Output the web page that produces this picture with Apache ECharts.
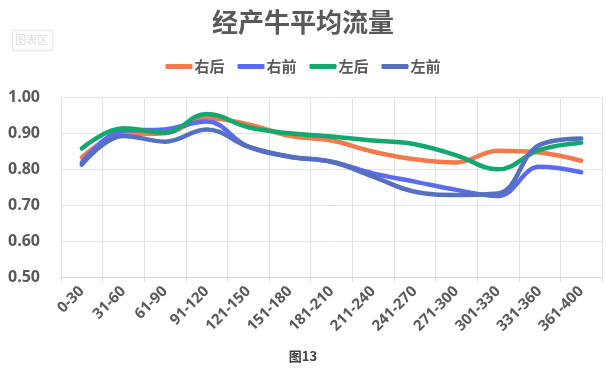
<!DOCTYPE html>
<html><head><meta charset="utf-8">
<script src="https://cdn.jsdelivr.net/npm/echarts@6/dist/echarts.min.js"></script>
<style>html,body{margin:0;padding:0;background:#fff}#c{width:606px;height:381px}</style>
</head><body><div id="c"></div>
<script>
const categories = ['0-30','31-60','61-90','91-120','121-150','151-180','181-210','211-240','241-270','271-300','301-330','331-360','361-400'];
const rightRear  = [0.832,0.896,0.899,0.941,0.924,0.892,0.879,0.848,0.827,0.818,0.851,0.846,0.823];
const rightFront = [0.818,0.906,0.910,0.932,0.862,0.834,0.820,0.788,0.765,0.742,0.725,0.806,0.791];
const leftRear   = [0.857,0.913,0.901,0.953,0.916,0.899,0.890,0.879,0.869,0.838,0.799,0.853,0.873];
const leftFront  = [0.812,0.892,0.876,0.910,0.862,0.834,0.820,0.779,0.737,0.728,0.732,0.867,0.885];
const seriesNames = ['右后','右前','左后','左前'];
const colors = ['#F4794B','#5B6CF2','#12A86E','#5570BE'];
const yTicks = { min: 0.5, max: 1.0, interval: 0.1 };

const FONT = "'Open Sans','Noto Sans CJK SC',sans-serif";
const chart = echarts.init(document.getElementById('c'));
const mk = (name, data, color) => ({
  name, type: 'line', data, smooth: 0.4, showSymbol: false, symbol: 'none',
  lineStyle: { width: 4.5, color, cap: 'round' }, itemStyle: { color }
});
chart.setOption({
  animation: false,
  title: { text: '经产牛平均流量', left: 'center', top: 4,
    textStyle: { fontSize: 26, fontWeight: 'bold', color: '#595959', fontFamily: "'Noto Sans CJK SC',sans-serif" } },
  legend: { top: 54, left: 'center', itemWidth: 27, itemHeight: 5, itemGap: 13, icon: 'roundRect',
    textStyle: { fontSize: 15, fontWeight: 'bold', color: '#595959', fontFamily: "'Noto Sans CJK SC',sans-serif", padding: [0,0,0,-3] },
    data: seriesNames },
  grid: { left: 61, right: 4, top: 97, bottom: 104 },
  xAxis: { type: 'category', data: categories, boundaryGap: true,
    axisLine: { lineStyle: { color: '#D9D9D9' } },
    axisTick: { show: true, length: 5, lineStyle: { color: '#D9D9D9' } },
    splitLine: { show: true, lineStyle: { color: '#E3E3E3' } },
    axisLabel: { rotate: 45, interval: 0, margin: 12, fontSize: 15, fontWeight: 'bold', color: '#595959', fontFamily: FONT } },
  yAxis: { type: 'value', min: yTicks.min, max: yTicks.max, interval: yTicks.interval,
    axisLine: { show: false }, axisTick: { show: false },
    splitLine: { lineStyle: { color: '#E3E3E3' } },
    axisLabel: { margin: 21, fontSize: 16, fontWeight: 'bold', color: '#595959', fontFamily: FONT,
      formatter: v => v.toFixed(2) } },
  graphic: [
    { type: 'rect', left: 12, top: 30, shape: { width: 40, height: 20 },
      style: { fill: '#fff', stroke: '#EBEBEB', lineWidth: 1, shadowBlur: 3, shadowColor: 'rgba(0,0,0,0.08)' } },
    { type: 'text', left: 15, top: 34, style: { text: '图表区', fontSize: 11, fill: '#DCDCDC', fontFamily: "'Noto Sans CJK SC',sans-serif" } },
    { type: 'text', left: 'center', top: 350, style: { text: '图13', fontSize: 13, fontWeight: 'bold', fill: '#404040', fontFamily: "'Noto Sans CJK SC',sans-serif" } }
  ],
  series: [
    mk(seriesNames[0], rightRear, colors[0]),
    mk(seriesNames[1], rightFront, colors[1]),
    mk(seriesNames[2], leftRear, colors[2]),
    mk(seriesNames[3], leftFront, colors[3])
  ]
});
</script></body></html>
